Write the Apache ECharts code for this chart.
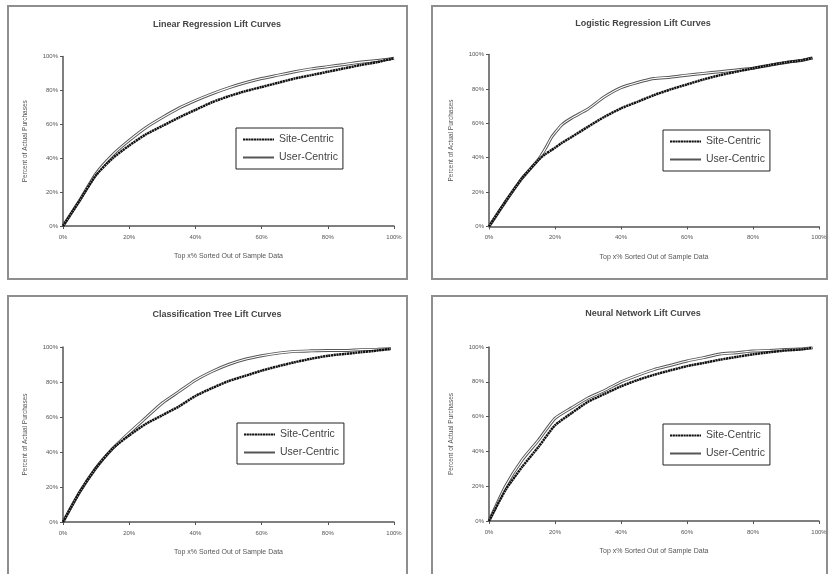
<!DOCTYPE html>
<html><head><meta charset="utf-8">
<script src="https://cdn.jsdelivr.net/npm/echarts@6/dist/echarts.min.js"></script>
<style>html,body{margin:0;padding:0;background:#fff}#c{width:832px;height:574px}</style>
</head><body><div id="c"></div>
<script>
// ---- data (percent values) ----
const titles = ["Linear Regression Lift Curves","Logistic Regression Lift Curves","Classification Tree Lift Curves","Neural Network Lift Curves"];
const seriesNames = ["Site-Centric","User-Centric"];
const xTitle = "Top x% Sorted Out of Sample Data";
const yTitle = "Percent of Actual Purchases";
const tickValues = [0,20,40,60,80,100];

const x1 = [0,5,10,15,20,25,30,35,40,45,50,55,60,65,70,75,80,85,90,95,100];
const site1 = [0,15,30,40,47.5,54,59,64,68.5,73,76.5,79.5,82,84.5,87,89,91,93,95,96.7,99];
const user1 = [0,15,31,42,50.5,58,64,69.5,74,78,81.5,84.5,87,89,91,92.7,94,95.3,96.7,97.6,99];

const x2 = [0,5,10,15,17,19,20,22,25,30,35,40,45,50,55,60,65,70,75,80,85,90,95,98];
const site2 = [0,14.5,28,38.7,42,44.5,45.8,48.5,52,58,63.8,68.7,72.5,76.4,79.7,82.6,85.5,88,90,92,93.8,95.4,96.7,98];
const user2 = [0,14.5,28,39,45,52,54.5,59,63,68.3,75.4,80.7,83.7,86,86.8,88,89,90,91,92,93.8,95.4,96.7,98];

const x3 = [0,5,10,15,20,25,30,35,40,45,50,55,60,65,70,75,80,85,90,95,99];
const site3 = [0,17,31,42,49.5,56,61,66,72,76.5,80.5,83.5,86.5,89,91.3,93.3,95,96,97,98,99];
const user3 = [0,17,31,42,51,59.5,68,74.5,81,86,90,93,95,96.5,97.5,97.8,98,98,98.5,98.7,99];

const x4 = [0,5,10,15,20,25,30,35,40,45,50,55,60,65,70,75,80,85,90,95,98];
const site4 = [0,17.8,31,42.6,55,62,68.5,73,77.4,81,84,86.6,89,90.8,92.7,94.3,95.8,97,98,98.7,99.5];
const user4 = [0,20,35,46.5,59,65,70.7,75,80,83.7,87,89.5,92,93.9,96,96.7,97.7,98,98.5,99,99.5];

const panelX = [x1,x2,x3,x4];
const panelSite = [site1,site2,site3,site4];
const panelUser = [user1,user2,user3,user4];

// ---- layout ----
const frames = [[8,6,399,273],[432,6,395,273],[8,296,399,290],[432,296,395,290]];
const grids = [
  {left:63, top:56.5, width:331, height:169.5},
  {left:489, top:54.5, width:330, height:172},
  {left:63, top:347, width:331, height:175},
  {left:489, top:347, width:330, height:174}
];
const titlePos = [[212,15],[638,14],[212,305],[638,304]];
const legendPos = [[236,128],[663,130],[237,423],[663,424]];

const font = "Liberation Sans, Arial, sans-serif";
const pair = (xs, ys) => xs.map((x,i)=>[x, ys[i]]);

const option = {
  backgroundColor:'#fff',
  animation:false,
  textStyle:{fontFamily:font},
  graphic: frames.map(f=>({type:'rect', shape:{x:f[0],y:f[1],width:f[2],height:f[3]},
     style:{fill:'#fff', stroke:'#8e8e8e', lineWidth:2}, z:-10})),
  title: titles.map((t,i)=>({text:t, left:titlePos[i][0], top:titlePos[i][1], textAlign:'center',
     textStyle:{fontSize:9, fontWeight:'bold', color:'#444', fontFamily:font}})),
  legend: legendPos.map((p,i)=>({data:seriesNames.slice(), orient:'vertical', left:p[0], top:p[1],
     itemWidth:31, itemHeight:12, itemGap:7, padding:[6,5,6,6], borderColor:'#222', borderWidth:1,
     backgroundColor:'#fff', selectedMode:false,
     itemStyle:{opacity:0, borderWidth:0},
     textStyle:{fontSize:10.5, color:'#444', fontFamily:font}})),
  grid: grids.map(g=>Object.assign({containLabel:false}, g)),
  xAxis: grids.map((g,i)=>({type:'value', gridIndex:i, min:0, max:100, interval:20,
     name:xTitle, nameLocation:'middle', nameGap:27,
     nameTextStyle:{fontSize:7, color:'#555'},
     axisLine:{lineStyle:{color:'#555', width:1.5}},
     axisTick:{show:true, length:3, lineStyle:{color:'#555'}},
     axisLabel:{formatter:v=>v+'%', fontSize:6, color:'#555', margin:8},
     splitLine:{show:false}})),
  yAxis: grids.map((g,i)=>({type:'value', gridIndex:i, min:0, max:100, interval:20,
     name:yTitle, nameLocation:'middle', nameGap:34,
     nameTextStyle:{fontSize:6.5, color:'#555'},
     axisLine:{show:true, lineStyle:{color:'#555', width:1.5}},
     axisTick:{show:true, length:3, lineStyle:{color:'#555'}},
     axisLabel:{formatter:v=>v+'%', fontSize:6, color:'#555', margin:5},
     splitLine:{show:false}})),
  series: []
};

for (let i=0;i<4;i++){
  option.series.push({name:'User-Centric', type:'line', xAxisIndex:i, yAxisIndex:i,
    data:pair(panelX[i], panelUser[i]), symbol:'none', smooth:0.2,
    lineStyle:{color:'#555', width:3}, itemStyle:{color:'#555'}, z:2});
  option.series.push({name:'_inner'+i, type:'line', xAxisIndex:i, yAxisIndex:i,
    data:pair(panelX[i], panelUser[i]), symbol:'none', smooth:0.2,
    lineStyle:{color:'#fff', width:1.1}, z:3, silent:true});
  option.series.push({name:'Site-Centric', type:'line', xAxisIndex:i, yAxisIndex:i,
    data:pair(panelX[i], panelSite[i]), symbol:'none', smooth:0.2,
    lineStyle:{color:'#111', width:2.5, type:[2.2,0.5]}, itemStyle:{color:'#111'}, z:4});
}

const chart = echarts.init(document.getElementById('c'), null, {renderer:'canvas'});
chart.setOption(option);
</script>
</body></html>
